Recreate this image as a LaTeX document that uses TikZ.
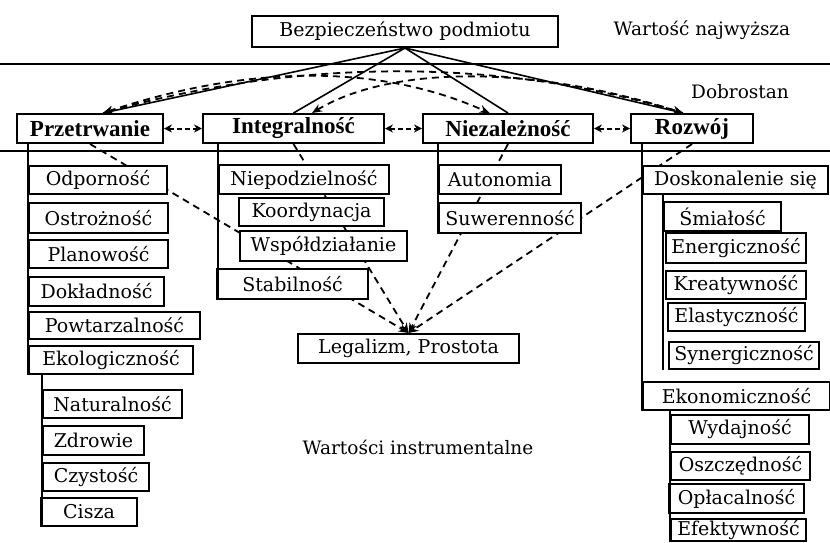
\documentclass[tikz,border=0pt]{standalone}
\usepackage{fontspec}
\setmainfont{DejaVu Serif}
\newfontfamily\rowfont{Liberation Serif}
\usepackage{tikz}
\usetikzlibrary{positioning}
\usetikzlibrary{arrows.meta}
\usetikzlibrary{calc}

\pgfdeclarelayer{behind}
\pgfsetlayers{behind,main}

\tikzset{
	valbox/.style={draw, line width=2pt, fill=white, inner sep=0pt, anchor=north west,
		minimum height=28pt, font=\fontsize{19}{22}\selectfont},
	rowbox/.style={valbox, minimum height=29pt, font=\rowfont\bfseries\fontsize{23}{26}\selectfont},
	tip/.style={-{Stealth[length=10pt,width=8pt]}},
	dtip/.style={{Stealth[length=10pt,width=8pt]}-{Stealth[length=10pt,width=8pt]}},
	dashline/.style={line width=1.8pt, dash pattern=on 7pt off 5pt},
	linkline/.style={line width=2pt, dash pattern=on 5pt off 3pt,
		{Stealth[length=8pt,width=8pt]}-{Stealth[length=8pt,width=8pt]}},
	band/.style={line width=2pt},
	tag/.style={font=\fontsize{18.5}{22}\selectfont}
}

\begin{document}
\begin{tikzpicture}[x=1pt, y=-1pt]
	
	\useasboundingbox (0,0) rectangle (830,542);
	
	% NOTE: EVERY BOX IS PLACED BY ITS TOP LEFT CORNER (PIXELS OF THE SCAN)
	\node[valbox, minimum width=306pt, minimum height=31pt] (bez) at (251,15) {Bezpieczeństwo podmiotu};
	
	\node[tag] (najw) at (702,30) {Wartość najwyższa};
	\node[tag] (dobr) at (740,92) {Dobrostan};
	\node[tag] (instr) at (418,447) {Wartości instrumentalne};
	
	% the band lines
	\draw[band] (0,64) -- (830,64);
	\draw[band] (0,151) -- (830,151);
	
	% welfare row
	\node[rowbox, minimum width=146pt] (prz) at (16,113) {Przetrwanie};
	\node[rowbox, minimum width=181pt] (int) at (202,113) {Integralność};
	\node[rowbox, minimum width=170pt] (nie) at (422,113) {Niezależność};
	\node[rowbox, minimum width=122pt] (roz) at (630,113) {Rozwój};
	
	%%%%%%%%%%%%%%%%%%%%%%%%%%%%%%%%%%%%%%%%%%%%%%%%%%%%%%%%%%%%%%
	% Przetrwanie column
	\node[valbox, minimum width=138pt] (odp) at (28,165) {Odporność};
	\node[valbox, minimum width=139pt, minimum height=30pt] (ost) at (28,202) {Ostrożność};
	\node[valbox, minimum width=139pt] (pla) at (28,239) {Planowość};
	\node[valbox, minimum width=135pt, minimum height=29pt] (dok) at (28,276) {Dokładność};
	\node[valbox, minimum width=171pt, minimum height=27pt] (pow) at (28,311) {Powtarzalność};
	\node[valbox, minimum width=164pt] (eko) at (28,345) {Ekologiczność};
	\node[valbox, minimum width=139pt] (nat) at (42,389) {Naturalność};
	\node[valbox, minimum width=101pt, minimum height=29pt] (zdr) at (42,425) {Zdrowie};
	\node[valbox, minimum width=106pt] (czy) at (42,462) {Czystość};
	\node[valbox, minimum width=96pt] (cis) at (40,497) {Cisza};
	
	% Integralnosc column
	\node[valbox, minimum width=170pt, minimum height=29pt] (nip) at (218,164) {Niepodzielność};
	\node[valbox, minimum width=145pt] (koo) at (238,197) {Koordynacja};
	\node[valbox, minimum width=167pt, minimum height=30pt] (wsp) at (239,230) {Współdziałanie};
	\node[valbox, minimum width=151pt, minimum height=30pt] (sta) at (216,268) {Stabilność};
	
	% Niezaleznosc column
	\node[valbox, minimum width=122pt, minimum height=29pt] (aut) at (438,164) {Autonomia};
	\node[valbox, minimum width=142pt, minimum height=30pt] (suw) at (438,202) {Suwerenność};
	
	% Rozwoj column
	\node[valbox, minimum width=185pt] (dos) at (642,165) {Doskonalenie się};
	\node[valbox, minimum width=117pt, minimum height=29pt] (smi) at (663,201) {Śmiałość};
	\node[valbox, minimum width=140pt, minimum height=30pt] (ene) at (665,232) {Energiczność};
	\node[valbox, minimum width=140pt] (kre) at (665,270) {Kreatywność};
	\node[valbox, minimum width=137pt] (ela) at (667,302) {Elastyczność};
	\node[valbox, minimum width=150pt, minimum height=27pt] (syn) at (668,341) {Synergiczność};
	\node[valbox, minimum width=187pt] (ekn) at (642,381) {Ekonomiczność};
	\node[valbox, minimum width=138pt, minimum height=29pt] (wyd) at (670,414) {Wydajność};
	\node[valbox, minimum width=139pt] (osz) at (670,451) {Oszczędność};
	\node[valbox, minimum width=135pt, minimum height=29pt] (opl) at (668,483) {Opłacalność};
	\node[valbox, minimum width=135pt, minimum height=22pt] (efe) at (670,518) {Efektywność};
	
	\node[valbox, minimum width=221pt, minimum height=29pt] (leg) at (297,333) {Legalizm, Prostota};
	
	%%%%%%%%%%%%%%%%%%%%%%%%%%%%%%%%%%%%%%%%%%%%%%%%%%%%%%%%%%%%%%
	% stems of the columns
	\draw[band] (prz.south -| odp.west) -- (eko.south west);
	\draw[band] (eko.south -| nat.west) -- (cis.south -| nat.west);
	\draw[band] (int.south -| nip.west) -- (sta.south -| nip.west);
	\draw[band] (nie.south -| aut.west) -- (suw.south west);
	\draw[band] (roz.south -| dos.west) -- (ekn.south west);
	\draw[band] (dos.south -| smi.west) -- (syn.south -| smi.west);
	\draw[band] (ekn.south -| wyd.west) -- (efe.south -| wyd.west);
	
	% top value to the four welfare values
	\draw[line width=1.6pt] (bez.south) -- (prz.50);
	\draw[line width=1.6pt] (bez.south) -- (int.north);
	\draw[line width=1.6pt] (bez.south) -- (nie.north);
	\draw[line width=1.6pt] (bez.south) -- (roz.120);
	
	% arcs between the welfare values
	\draw[dashline, dtip] (prz.50) .. controls (300,58) and (500,58) .. (roz.120);
	\draw[dashline, dtip] (prz.50) .. controls (250,64) and (380,64) .. (nie.140);
	\draw[dashline, dtip] (int.40) .. controls (390,66) and (530,64) .. (roz.120);
	
	\draw[linkline] (prz.east) -- (int.west);
	\draw[linkline] (int.east) -- (nie.west);
	\draw[linkline] (nie.east) -- (roz.west);
	
	% NOTE: THESE RUN UNDER THE WHITE BOXES
	\begin{pgfonlayer}{behind}
		\draw[dashline, tip] (prz.south) -- (leg.north);
		\draw[dashline, tip] (int.south) -- (leg.north);
		\draw[dashline, tip] (nie.south) -- (leg.north);
		\draw[dashline, tip] (roz.south) -- (leg.north);
	\end{pgfonlayer}
	
\end{tikzpicture}
\end{document}
